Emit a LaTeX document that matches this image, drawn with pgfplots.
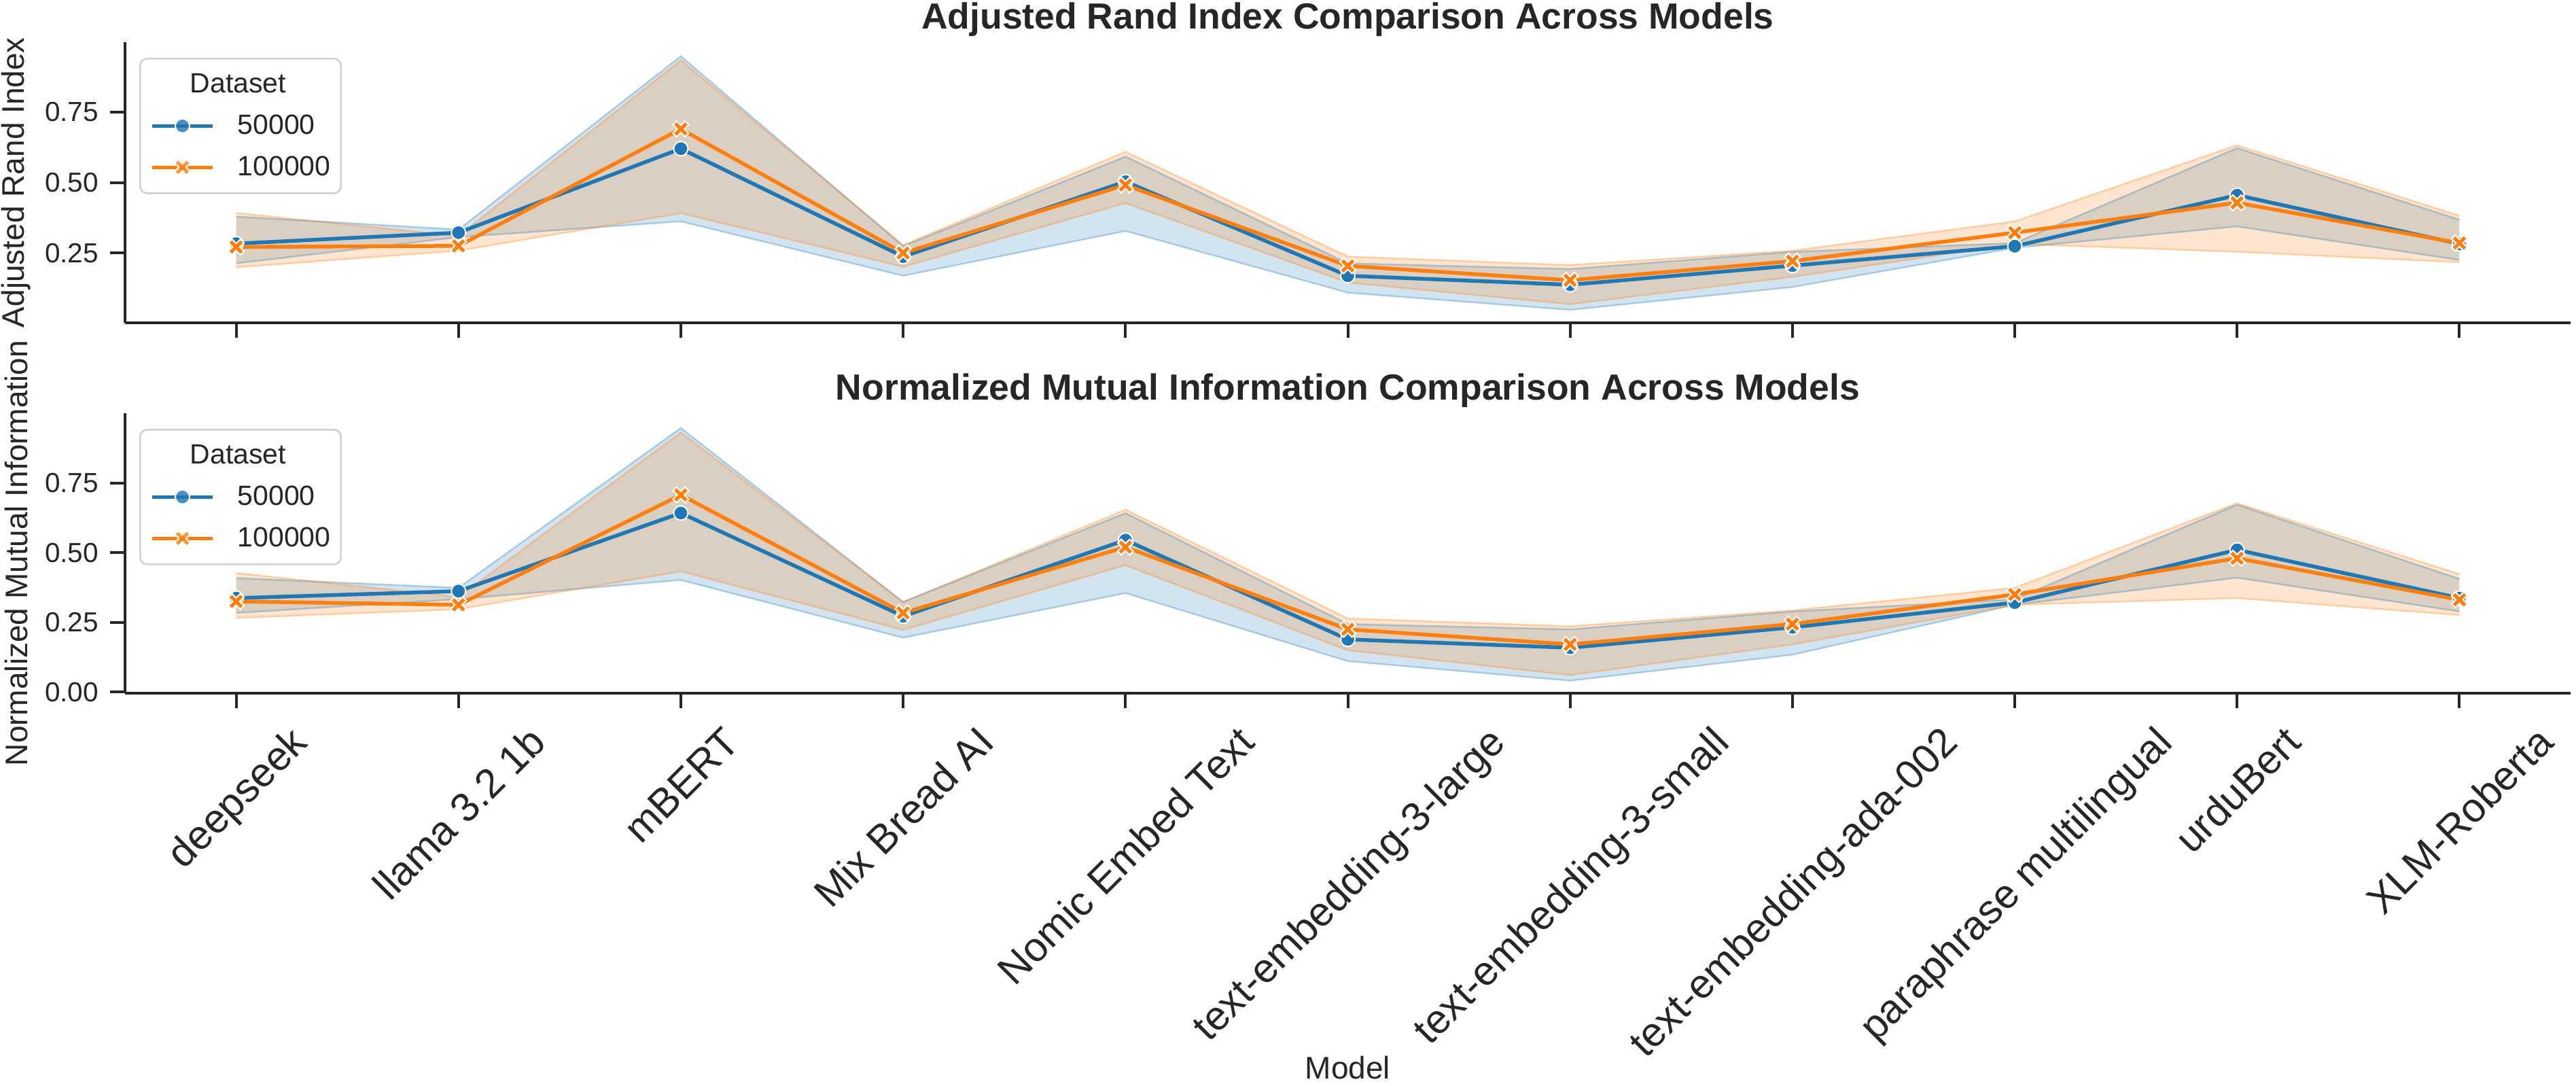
\documentclass[border=0pt]{standalone}
\usepackage{fontspec}
\setmainfont{Liberation Sans}
\usepackage{pgfplots}
\pgfplotsset{compat=1.18}
\usepackage{pgfplotstable}
\usepgfplotslibrary{fillbetween}

\definecolor{c0}{RGB}{31,119,180}
\definecolor{c1}{RGB}{255,127,14}
\definecolor{ink}{RGB}{38,38,38}
\definecolor{lgray}{RGB}{208,208,208}

% filled "X" marker (seaborn style)
\pgfdeclareplotmark{Xfill}{%
  \pgftransformrotate{45}%
  \pgfpathmoveto{\pgfqpoint{0.3\pgfplotmarksize}{\pgfplotmarksize}}%
  \pgfpathlineto{\pgfqpoint{0.3\pgfplotmarksize}{0.3\pgfplotmarksize}}%
  \pgfpathlineto{\pgfqpoint{\pgfplotmarksize}{0.3\pgfplotmarksize}}%
  \pgfpathlineto{\pgfqpoint{\pgfplotmarksize}{-0.3\pgfplotmarksize}}%
  \pgfpathlineto{\pgfqpoint{0.3\pgfplotmarksize}{-0.3\pgfplotmarksize}}%
  \pgfpathlineto{\pgfqpoint{0.3\pgfplotmarksize}{-\pgfplotmarksize}}%
  \pgfpathlineto{\pgfqpoint{-0.3\pgfplotmarksize}{-\pgfplotmarksize}}%
  \pgfpathlineto{\pgfqpoint{-0.3\pgfplotmarksize}{-0.3\pgfplotmarksize}}%
  \pgfpathlineto{\pgfqpoint{-\pgfplotmarksize}{-0.3\pgfplotmarksize}}%
  \pgfpathlineto{\pgfqpoint{-\pgfplotmarksize}{0.3\pgfplotmarksize}}%
  \pgfpathlineto{\pgfqpoint{-0.3\pgfplotmarksize}{0.3\pgfplotmarksize}}%
  \pgfpathlineto{\pgfqpoint{-0.3\pgfplotmarksize}{\pgfplotmarksize}}%
  \pgfpathclose
  \pgfusepathqfillstroke
}

% rotated tick label whose bounding box is centred on the tick,
% its top 3pt below the tick end
\newlength\tlw
\newlength\tlh
\newcommand\mtl[1]{%
  \settowidth{\tlw}{#1}\tlh=1.117em
  #1\hspace*{\dimexpr(\tlw+\tlh)/2+4.24pt\relax}%
  \rule[-0.212em]{0pt}{\dimexpr 0.5585em+(\tlw+\tlh)/4+2.12pt\relax}}

% x bm bl bu om ol ou  (blue = 50000, orange = 100000)
\pgfplotstableread{
x bm bl bu om ol ou
0 0.283 0.213 0.379 0.271 0.199 0.392
1 0.322 0.306 0.333 0.275 0.258 0.310
2 0.620 0.362 0.948 0.690 0.391 0.934
3 0.237 0.169 0.274 0.250 0.201 0.278
4 0.503 0.328 0.592 0.491 0.427 0.609
5 0.169 0.109 0.213 0.204 0.145 0.237
6 0.137 0.048 0.193 0.153 0.068 0.207
7 0.205 0.129 0.254 0.221 0.165 0.258
8 0.274 0.268 0.285 0.322 0.282 0.362
9 0.455 0.344 0.622 0.428 0.254 0.632
10 0.282 0.225 0.368 0.285 0.217 0.382
}\ari

\pgfplotstableread{
x bm bl bu om ol ou
0 0.337 0.284 0.409 0.325 0.266 0.427
1 0.362 0.333 0.374 0.313 0.297 0.341
2 0.642 0.402 0.947 0.707 0.433 0.931
3 0.272 0.195 0.323 0.284 0.223 0.323
4 0.545 0.355 0.642 0.520 0.455 0.654
5 0.189 0.111 0.244 0.225 0.150 0.264
6 0.159 0.041 0.225 0.171 0.061 0.236
7 0.232 0.134 0.289 0.244 0.171 0.293
8 0.321 0.313 0.333 0.350 0.313 0.374
9 0.510 0.410 0.672 0.480 0.337 0.677
10 0.337 0.289 0.406 0.331 0.276 0.423
}\nmi

\pgfplotsset{
  panel/.style={
    scale only axis, width=719.8pt,
    xmin=-0.5, xmax=10.5,
    axis x line*=bottom, axis y line*=left,
    axis line style={-, line width=0.8pt, draw=ink},
    tick align=outside, major tick length=4.4pt,
    tick style={line width=0.8pt, draw=ink},
    xtick={0,...,10},
    yticklabel style={font=\fontsize{8.1}{9.7}\selectfont, text=ink,
      anchor=east, inner sep=0pt, xshift=-3.2pt,
      /pgf/number format/fixed, /pgf/number format/fixed zerofill,
      /pgf/number format/precision=2, /pgf/number format/assume math mode=true},
    ylabel style={font=\fontsize{9.2}{11}\selectfont, text=ink,
      at={(axis description cs:-0.0445,0.5)}, anchor=center},
    title style={font=\bfseries\fontsize{10.7}{12.8}\selectfont, text=ink,
      at={(0.5,1)}, anchor=base, yshift=-2pt},
    legend style={at={(0,1)}, anchor=north west, xshift=4.2pt, yshift=-4.6pt,
      draw=lgray, line width=0.5pt, rounded corners=2pt, fill=white,
      fill opacity=0.8, draw opacity=1, text opacity=1, text=ink,
      font=\fontsize{8.2}{9.8}\selectfont,
      inner xsep=3pt, inner ysep=1.5pt, row sep=0pt, column sep=6.8pt,
      nodes={inner sep=0pt, text height=8.6pt, text depth=3.6pt}},
    legend cell align=left,
    legend image code/.code={\draw[mark repeat=2, mark phase=2, ##1]
      plot coordinates {(0pt,0pt) (8.9pt,0pt) (17.8pt,0pt)};},
  },
  edge/.style={draw=#1, draw opacity=0.3, line width=0.5pt, forget plot},
  blueline/.style={c0, line width=1.1pt, mark=*, mark size=2.1pt,
    mark options={fill=c0, draw=white, line width=0.4pt}},
  orangeline/.style={c1, line width=1.1pt, mark=Xfill, mark size=2.5pt,
    mark options={fill=c1, draw=white, line width=0.4pt}},
}

\begin{document}
\begin{tikzpicture}

% ---------- Adjusted Rand Index ----------
\begin{axis}[panel, at={(36.8pt,-95pt)}, anchor=south west, height=82.6pt,
  ymin=0.002, ymax=0.998, ytick={0.25,0.5,0.75},
  xticklabels={},
  ylabel={Adjusted Rand Index},
  title={Adjusted Rand Index Comparison Across Models}]
\addlegendimage{empty legend}\addlegendentry{\hspace*{-14pt}Dataset}
\addplot[edge=c0, name path=abu] table[x=x,y=bu]{\ari};
\addplot[edge=c0, name path=abl] table[x=x,y=bl]{\ari};
\addplot[c0, fill opacity=0.2, draw=none, forget plot] fill between[of=abu and abl];
\addplot[edge=c1, name path=aou] table[x=x,y=ou]{\ari};
\addplot[edge=c1, name path=aol] table[x=x,y=ol]{\ari};
\addplot[c1, fill opacity=0.2, draw=none, forget plot] fill between[of=aou and aol];
\addplot[blueline] table[x=x,y=bm]{\ari};
\addlegendentry{50000}
\addplot[orangeline] table[x=x,y=om]{\ari};
\addlegendentry{100000}
\end{axis}

% ---------- Normalized Mutual Information ----------
\begin{axis}[panel, at={(36.8pt,-204pt)}, anchor=south west, height=82.4pt,
  ymin=-0.004, ymax=1.0, ytick={0,0.25,0.5,0.75},
  xticklabels={\mtl{deepseek}, \mtl{llama 3.2 1b}, \mtl{mBERT}, \mtl{Mix Bread AI},
    \mtl{Nomic Embed Text}, \mtl{text-embedding-3-large}, \mtl{text-embedding-3-small},
    \mtl{text-embedding-ada-002}, \mtl{paraphrase multilingual}, \mtl{urduBert},
    \mtl{XLM-Roberta}},
  xticklabel style={font=\fontsize{12}{14.4}\selectfont, text=ink,
    rotate=45, anchor=north, inner sep=0pt},
  xlabel={Model},
  xlabel style={font=\fontsize{9.2}{11}\selectfont, text=ink,
    at={(axis description cs:0.5,0)}, anchor=base, yshift=-113.4pt},
  ylabel={Normalized Mutual Information},
  title={Normalized Mutual Information Comparison Across Models}]
\addlegendimage{empty legend}\addlegendentry{\hspace*{-14pt}Dataset}
\addplot[edge=c0, name path=nbu] table[x=x,y=bu]{\nmi};
\addplot[edge=c0, name path=nbl] table[x=x,y=bl]{\nmi};
\addplot[c0, fill opacity=0.2, draw=none, forget plot] fill between[of=nbu and nbl];
\addplot[edge=c1, name path=nou] table[x=x,y=ou]{\nmi};
\addplot[edge=c1, name path=nol] table[x=x,y=ol]{\nmi};
\addplot[c1, fill opacity=0.2, draw=none, forget plot] fill between[of=nou and nol];
\addplot[blueline] table[x=x,y=bm]{\nmi};
\addlegendentry{50000}
\addplot[orangeline] table[x=x,y=om]{\nmi};
\addlegendentry{100000}
\end{axis}

\pgfresetboundingbox
\path[use as bounding box] (0,0) rectangle (758.2pt,-319.4pt);
\end{tikzpicture}
\end{document}
